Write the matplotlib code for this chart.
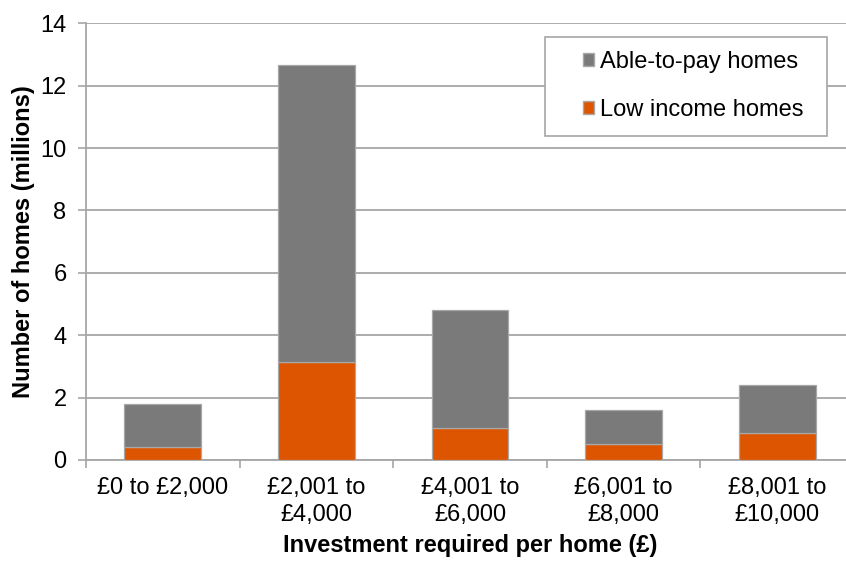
import numpy as np
import matplotlib
matplotlib.use("Agg")
import matplotlib.pyplot as plt
from matplotlib.patches import Patch, Rectangle

plt.rcParams["font.family"] = ["Liberation Sans", "DejaVu Sans"]

# data
categories = ["£0 to £2,000", "£2,001 to\n£4,000", "£4,001 to\n£6,000",
              "£6,001 to\n£8,000", "£8,001 to\n£10,000"]
low_income = [0.42, 3.15, 1.02, 0.50, 0.87]
able_to_pay = [1.37, 9.50, 3.79, 1.09, 1.52]

COLOR_GREY = "#7a7a7a"
COLOR_ORANGE = "#dd5500"
COLOR_EDGE = "#a8a8a8"
COLOR_AXIS = "#a6a6a6"
FS = 17

fig = plt.figure(figsize=(8.46, 5.61), dpi=100)
ax = fig.add_axes([86 / 846, 1 - 460 / 561, 768 / 846, (460 - 23.3) / 561])

x = np.arange(len(categories))
ax.bar(x, low_income, width=0.5, color=COLOR_ORANGE, edgecolor=COLOR_EDGE,
       linewidth=0.9, zorder=3)
ax.bar(x, able_to_pay, width=0.5, bottom=low_income, color=COLOR_GREY,
       edgecolor=COLOR_EDGE, linewidth=0.9, zorder=3)

ax.set_xlim(-0.5, len(categories) - 0.5)
ax.set_ylim(0, 14)
ax.set_yticks(np.arange(0, 15, 2))
ax.yaxis.grid(True, color=COLOR_AXIS, linewidth=1.3, zorder=0)
ax.set_axisbelow(True)

# category boundary ticks (major) and centred labels (minor)
ax.set_xticks(np.arange(-0.5, len(categories), 1.0))
ax.set_xticklabels([])
ax.set_xticks(x, minor=True)
ax.set_xticklabels(categories, minor=True, fontsize=FS, linespacing=1.3)
ax.tick_params(axis="x", which="major", length=6, width=1.2, color=COLOR_AXIS)
ax.tick_params(axis="x", which="minor", length=0, pad=12)
ax.tick_params(axis="y", length=6, width=1.2, color=COLOR_AXIS,
               labelsize=FS, pad=8)

for side in ("top", "right"):
    ax.spines[side].set_visible(False)
for side in ("left", "bottom"):
    ax.spines[side].set_color(COLOR_AXIS)
    ax.spines[side].set_linewidth(1.3)

ax.set_xlabel("Investment required per home (£)", fontsize=FS,
              fontweight="bold", labelpad=6)
ax.set_ylabel("Number of homes (millions)", fontsize=FS,
              fontweight="bold", labelpad=4)

# legend box drawn separately so the inner padding can match
ax.add_patch(Rectangle((545 / 846, 1 - 136 / 561), 282 / 846, 99 / 561,
                       transform=fig.transFigure, facecolor="white",
                       edgecolor=COLOR_AXIS, linewidth=1.2, zorder=4,
                       clip_on=False))
handles = [Patch(facecolor=COLOR_GREY, edgecolor=COLOR_EDGE),
           Patch(facecolor=COLOR_ORANGE, edgecolor=COLOR_EDGE)]
leg = ax.legend(handles, ["Able-to-pay homes", "Low income homes"],
                loc="upper left", bbox_to_anchor=(583 / 846, 1 - 51 / 561),
                bbox_transform=fig.transFigure, fontsize=FS,
                frameon=False, handlelength=0.47, handleheight=0.47,
                handletextpad=0.25, labelspacing=1.08,
                borderpad=0, borderaxespad=0)
leg.set_zorder(5)

fig.savefig("out.png", dpi=100)
